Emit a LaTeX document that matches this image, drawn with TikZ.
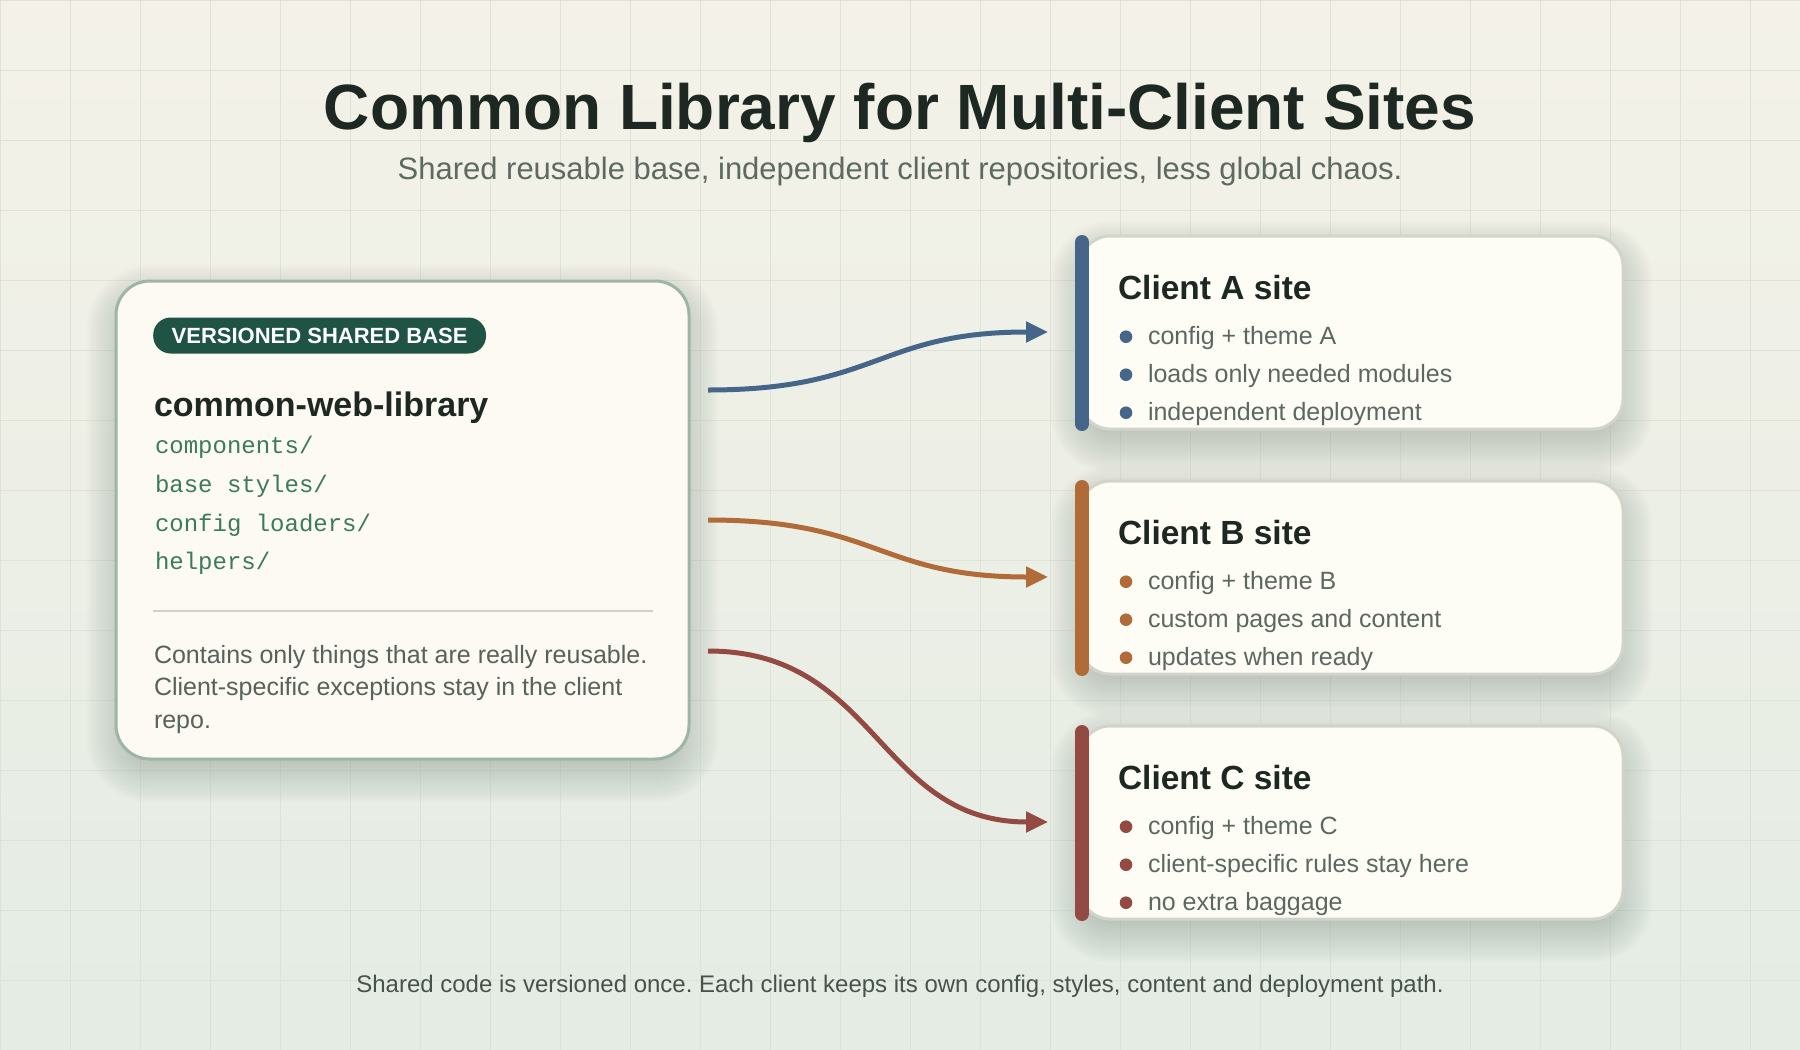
\documentclass[tikz,border=0pt]{standalone}
\usepackage{fontspec}
\setmainfont{Liberation Sans}
\setmonofont{Liberation Mono}
\usetikzlibrary{arrows.meta}
\frenchspacing
\definecolor{bgtop}{HTML}{F4F2E8}
\definecolor{bgbot}{HTML}{E4ECE4}
\definecolor{gridc}{HTML}{DCDFD4}
\definecolor{shadowc}{HTML}{2E3B32}
\definecolor{libfill}{HTML}{FCFAF2}
\definecolor{libborder}{HTML}{9DB5A4}
\definecolor{badgec}{HTML}{1F5444}
\definecolor{titlec}{HTML}{1E2823}
\definecolor{subc}{HTML}{5E6962}
\definecolor{monoc}{HTML}{3C7A5E}
\definecolor{descc}{HTML}{56625B}
\definecolor{divc}{HTML}{CDD1C6}
\definecolor{cardfill}{HTML}{FDFDF6}
\definecolor{cardborder}{HTML}{D3D4C9}
\definecolor{bulletc}{HTML}{5D6761}
\definecolor{footc}{HTML}{48524C}
\definecolor{cA}{HTML}{466689}
\definecolor{cB}{HTML}{B06B39}
\definecolor{cC}{HTML}{934A43}
\newcommand\myfs[1]{\fontsize{#1pt}{#1pt}\selectfont}
\newcommand\softshadow[5]{%
  \foreach \k in {1,...,18}{%
    \pgfmathsetmacro\shd{-12+\k*2.3}%
    \pgfmathsetmacro\shr{max(#5+\shd,4)}%
    \fill[shadowc, opacity=0.012, rounded corners=\shr pt]
      (#1-\shd, #2+14-\shd) rectangle (#3+\shd, #4+14+\shd);
  }%
}
\newcommand\clientcard[7]{%
  \softshadow{1080}{#2}{1623}{#2+193}{30}
  \node[card, minimum width=543pt, minimum height=193pt] (#1) at (1351.5,#2+96.5) {};
  \draw[cardbar, draw=#3] (1082,#2+6) -- (1082,#2+188);
  \node[cardtitle] (#1title) at (1118,#2+63) {#4};
  \fill[#3] (1126,#2+100.7) circle[radius=6.3pt];
  \fill[#3] (1126,#2+138.7) circle[radius=6.3pt];
  \fill[#3] (1126,#2+176.7) circle[radius=6.3pt];
  \node[bullettext] (#1one) at (1148,#2+108) {#5};
  \node[bullettext] (#1two) at (1148,#2+146) {#6};
  \node[bullettext] (#1three) at (1148,#2+184) {#7};
}
\begin{document}
\begin{tikzpicture}[x=1pt,y=-1pt,
  txt/.style={inner sep=0pt, outer sep=0pt, anchor=base west},
  card/.style={draw=cardborder, line width=3pt, fill=cardfill, rounded corners=30pt, inner sep=0pt},
  cardbar/.style={line width=14pt, line cap=round},
  cardtitle/.style={txt, text=titlec, font=\myfs{33.5}\bfseries},
  bullettext/.style={txt, text=bulletc, font=\myfs{25}},
  monotext/.style={txt, text=monoc, font=\ttfamily\myfs{24}},
  desctext/.style={txt, text=descc, font=\myfs{25}},
  conn/.style={line width=5pt, -{Triangle[length=22pt,width=20pt]}},
]
\useasboundingbox (0,0) rectangle (1800,1050);
\shade[top color=bgtop, bottom color=bgbot] (0,0) rectangle (1800,1050);
\foreach \gx in {0,70,...,1790} \draw[gridc, line width=1pt, opacity=0.8] (\gx,0) -- (\gx,1050);
\foreach \gy in {0,70,...,1050} \draw[gridc, line width=1pt, opacity=0.8] (0,\gy) -- (1800,\gy);

% title
\node[inner sep=0pt, anchor=base, text=titlec, font=\myfs{64}\bfseries] (title) at (900,129) {Common Library for Multi-Client Sites};
\node[inner sep=0pt, anchor=base, text=subc, font=\myfs{31}] (subtitle) at (900,179) {Shared reusable base, independent client repositories, less global chaos.};

% library card
\softshadow{116}{281}{689}{759}{34}
\node[draw=libborder, line width=3pt, fill=libfill, rounded corners=34pt, inner sep=0pt,
      minimum width=573pt, minimum height=478pt] (lib) at (402.5,520) {};
\node[fill=badgec, text=white, rounded corners=17.5pt, inner xsep=18.5pt, inner ysep=0pt,
      minimum height=36pt, font=\myfs{22}\bfseries, anchor=west] (badge) at (153,335.5) {VERSIONED SHARED BASE};
\node[txt, text=titlec, font=\myfs{34}\bfseries] (libname) at (154,416) {common-web-library};
\node[monotext] (m1) at (155,453) {components/};
\node[monotext] (m2) at (155,492) {base styles/};
\node[monotext] (m3) at (155,531) {config loaders/};
\node[monotext] (m4) at (155,569) {helpers/};
\coordinate (divL) at (153,611);
\coordinate (divR) at (653,611);
\draw[divc, line width=2pt] (divL) -- (divR);
\node[desctext] (d1) at (154,663) {Contains only things that are really reusable.};
\node[desctext] (d2) at (154,695.5) {Client-specific exceptions stay in the client};
\node[desctext] (d3) at (154,728) {repo.};

% client cards
\clientcard{A}{236}{cA}{Client A site}{config + theme A}{loads only needed modules}{independent deployment}
\clientcard{B}{481}{cB}{Client B site}{config + theme B}{custom pages and content}{updates when ready}
\clientcard{C}{726}{cC}{Client C site}{config + theme C}{client-specific rules stay here}{no extra baggage}

% connectors
\coordinate (sA) at (708,390);
\coordinate (eA) at (1048,332);
\coordinate (sB) at (708,520);
\coordinate (eB) at (1048,577);
\coordinate (sC) at (708,651);
\coordinate (eC) at (1048,822);
\draw[conn, cA] (sA) .. controls +(170,0) and +(-170,0) .. (eA);
\draw[conn, cB] (sB) .. controls +(170,0) and +(-170,0) .. (eB);
\draw[conn, cC] (sC) .. controls +(170,0) and +(-170,0) .. (eC);

% footer
\node[inner sep=0pt, anchor=base, text=footc, font=\myfs{24}] (footer) at (900,992) {Shared code is versioned once. Each client keeps its own config, styles, content and deployment path.};
\end{tikzpicture}
\end{document}
